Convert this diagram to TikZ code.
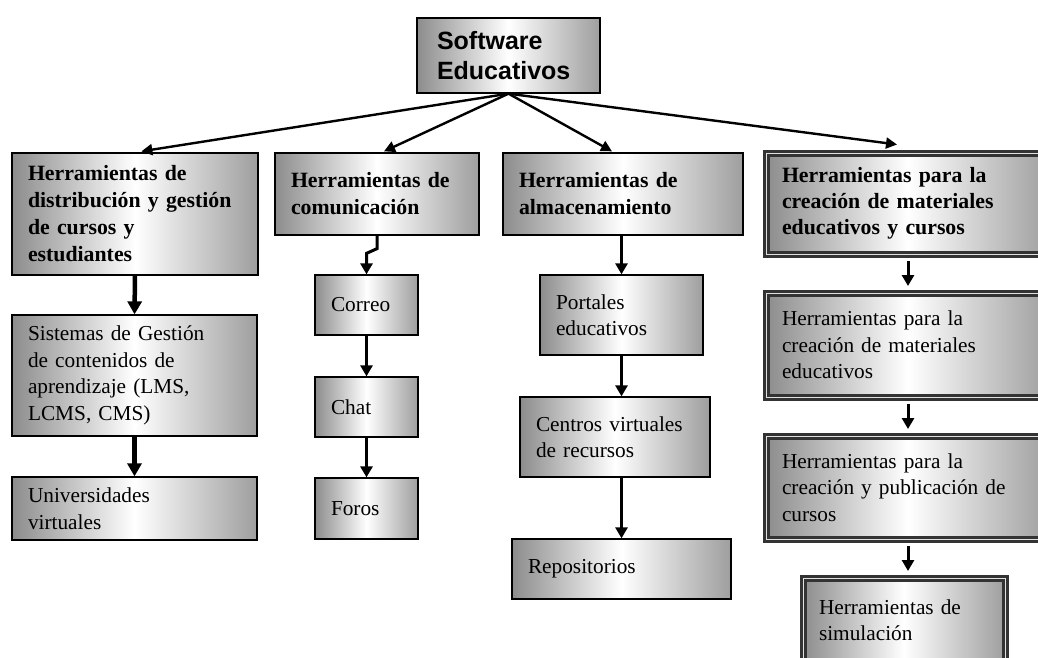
\documentclass[tikz,border=0pt]{standalone}
\usepackage{fontspec}
\setmainfont{Liberation Serif}
\newfontfamily\headsans{Liberation Sans}
\usetikzlibrary{arrows.meta,calc}

\begin{document}
\begin{tikzpicture}[x=1pt,y=-1pt,
  % shaded grey box with thin black border
  box/.style={draw=black, line width=1.3pt, left color=black!45, right color=black!38,
    middle color=white, rectangle, inner ysep=2pt, inner xsep=16pt, align=left,
    font=\fontsize{21.3}{26.5}\selectfont},
  headbox/.style={box, font=\bfseries\fontsize{21.8}{27}\selectfont},
  % heavy dark frame with a fine light rule inside, used in the right-hand column
  framed/.style={box, draw=black!80, line width=7pt,
    postaction={draw=black!12, line width=0.9pt}},
  arr/.style={draw=black, line width=3pt, -{Triangle[width=12pt,length=11pt]}},
  fat/.style={arr, line width=4.5pt, -{Triangle[width=14pt,length=13pt]}},
  fan/.style={draw=black, line width=2.4pt, -{Triangle[width=11pt,length=11pt]}}
]
\useasboundingbox (0,0) rectangle (1038,657);

% root
\node[box, minimum width=183pt, minimum height=75pt, text width=143pt, inner xsep=20pt,
      font=\headsans\bfseries\fontsize{25}{30}\selectfont] (top) at (508.5,55.5)
  {Software\\Educativos};

% first level
\node[headbox, minimum width=246pt, minimum height=122pt, text width=214pt] (b1) at (135,214)
  {Herramientas de\\distribución y gestión\\de cursos y\\estudiantes};
\node[headbox, minimum width=204pt, minimum height=82pt, text width=172pt] (b2) at (377,194)
  {Herramientas de\\comunicación};
\node[headbox, minimum width=240pt, minimum height=82pt, text width=208pt] (b3) at (623,194)
  {Herramientas de\\almacenamiento};
\node[framed, font=\bfseries\fontsize{21.8}{26}\selectfont,
      minimum width=284pt, minimum height=101pt, text width=252pt] (b4) at (908,203.5)
  {Herramientas para la\\creación de materiales\\educativos y cursos};

% column 1
\node[box, minimum width=245pt, minimum height=121pt, text width=213pt] (c1a) at (134.5,375.5)
  {Sistemas de Gestión\\de contenidos de\\aprendizaje (LMS,\\LCMS, CMS)};
\node[box, minimum width=245pt, minimum height=63pt, text width=213pt] (c1b) at (134.5,508.5)
  {Universidades\\virtuales};

% column 2
\node[box, minimum width=103pt, minimum height=60pt, text width=71pt] (c2a) at (366.5,305) {Correo};
\node[box, minimum width=103pt, minimum height=60pt, text width=71pt] (c2b) at (366.5,407) {Chat};
\node[box, minimum width=103pt, minimum height=61pt, text width=71pt] (c2c) at (366.5,508.5) {Foros};

% column 3
\node[box, minimum width=163pt, minimum height=80pt, text width=131pt] (c3a) at (621.5,315)
  {Portales\\educativos};
\node[box, minimum width=190pt, minimum height=80pt, text width=158pt] (c3b) at (615,437)
  {Centros virtuales\\de recursos};
\node[box, minimum width=219pt, minimum height=60pt, text width=187pt] (c3c) at (621.5,569)
  {Repositorios};

% column 4
\node[framed, minimum width=284pt, minimum height=104pt, text width=252pt] (c4a) at (908,345)
  {Herramientas para la\\creación de materiales\\educativos};
\node[framed, minimum width=284pt, minimum height=103pt, text width=252pt] (c4b) at (908,487.5)
  {Herramientas para la\\creación y publicación de\\cursos};
\node[framed, minimum width=202pt, minimum height=84pt, text width=170pt] (c4c) at (904,620)
  {Herramientas de\\simulación};

% fan-out from the root
\draw[fan] (top.south) -- ($(b1.north west)+(130,-1)$);
\draw[fan] (top.south) -- ($(b2.north)+(7,-1)$);
\draw[fan] (top.south) -- ($(b3.north)+(-11,-1)$);
\draw[fan] (top.south) -- ($(b4.north)+(-11,-5)$);

% column 1 chain
\draw[fat] (b1.south) -- (c1a.north);
\draw[fat] (c1a.south) -- (c1b.north);

% column 2 chain (with the small jog)
\draw[arr] (b2.south) -- ++(0,13) -- ($(c2a.north)+(0,-21)$) -- (c2a.north);
\draw[arr] (c2a.south) -- (c2b.north);
\draw[arr] (c2b.south) -- (c2c.north);

% column 3 chain
\draw[arr] (b3.south -| c3a.north) -- (c3a.north);
\draw[arr] (c3a.south) -- (c3a.south |- c3b.north);
\draw[arr] (c3a.south |- c3b.south) -- (c3a.south |- c3c.north);

% column 4 chain
\draw[arr] ([yshift=-3.5pt]b4.south) -- ([yshift=3.5pt]c4a.north);
\draw[arr] ([yshift=-3.5pt]c4a.south) -- ([yshift=3.5pt]c4b.north);
\draw[arr] ([yshift=-3.5pt]c4b.south) -- ([yshift=3.5pt]c4b.south |- c4c.north);
\end{tikzpicture}
\end{document}
